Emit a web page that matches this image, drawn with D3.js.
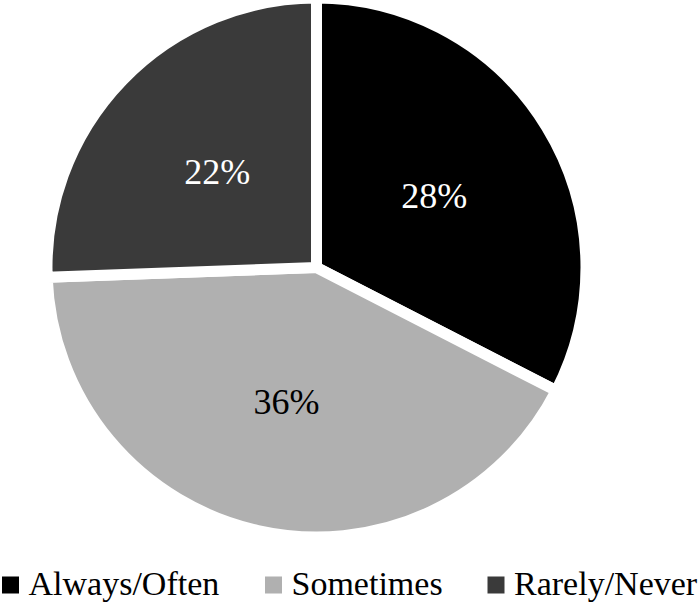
<!DOCTYPE html>
<html>
<head>
<meta charset="utf-8">
<script src="https://cdn.jsdelivr.net/npm/d3@7"></script>
<style>
  html, body { margin: 0; padding: 0; background: #ffffff; }
  #wrap { position: relative; width: 700px; height: 606px; }
  #chart { position: absolute; left: 0; top: 0; display: block; }
  .t { position: absolute; white-space: nowrap; font-family: "Liberation Serif", "Times New Roman", Tinos, serif; line-height: 1; }
</style>
</head>
<body>
<div id="wrap">
<svg id="chart" width="700" height="606"></svg>
</div>
<script>
const categories = ["Always/Often", "Sometimes", "Rarely/Never"];
const values = [28, 36, 22];
const labels = ["28%", "36%", "22%"];
const colors = ["#000000", "#b0b0b0", "#3a3a3a"];

const FONT = '"Liberation Serif", "Times New Roman", Tinos, serif';
const svg = d3.select("#chart");
const wrap = d3.select("#wrap");
const cx = 316.5, cy = 267.5, R = 269.5, labelR = 138;

const pie = d3.pie().sort(null).value(d => d.value).startAngle(0).endAngle(2 * Math.PI);
const data = categories.map((c, i) => ({ cat: c, value: values[i], label: labels[i], color: colors[i] }));
const arcs = pie(data);

const arc = d3.arc().innerRadius(0).outerRadius(R);
const labelArc = d3.arc().innerRadius(labelR).outerRadius(labelR);

const g = svg.append("g").attr("transform", `translate(${cx},${cy})`);

g.selectAll("path.slice")
  .data(arcs)
  .join("path")
  .attr("class", "slice")
  .attr("d", arc)
  .attr("fill", d => d.data.color)
  .attr("stroke", "#ffffff")
  .attr("stroke-width", 11)
  .attr("stroke-linejoin", "miter");

// Slice labels as SVG text
const lblPos = arcs.map(d => labelArc.centroid(d));
svg.selectAll("text.lbl")
  .data(arcs)
  .join("text")
  .attr("class", "lbl")
  .attr("x", (d, i) => cx + lblPos[i][0])
  .attr("y", (d, i) => cy + lblPos[i][1] + 12.2)
  .attr("text-anchor", "middle")
  .attr("font-family", FONT)
  .style("font-family", FONT)
  .attr("font-size", 36)
  .attr("fill", (d, i) => i === 1 ? "#000000" : "#ffffff")
  .text(d => d.data.label);

// Legend
const sqX = [2, 265, 487.5];
svg.selectAll("rect.sw")
  .data(data)
  .join("rect")
  .attr("class", "sw")
  .attr("x", (d, i) => sqX[i])
  .attr("y", 576.5)
  .attr("width", 17)
  .attr("height", 17)
  .attr("fill", d => d.color);

svg.selectAll("text.leg")
  .data(data)
  .join("text")
  .attr("class", "leg")
  .attr("x", (d, i) => sqX[i] + 26.5)
  .attr("y", 595)
  .attr("font-family", FONT)
  .style("font-family", FONT)
  .attr("font-size", 34)
  .attr("fill", "#000000")
  .text(d => d.cat);
</script>
</body>
</html>
